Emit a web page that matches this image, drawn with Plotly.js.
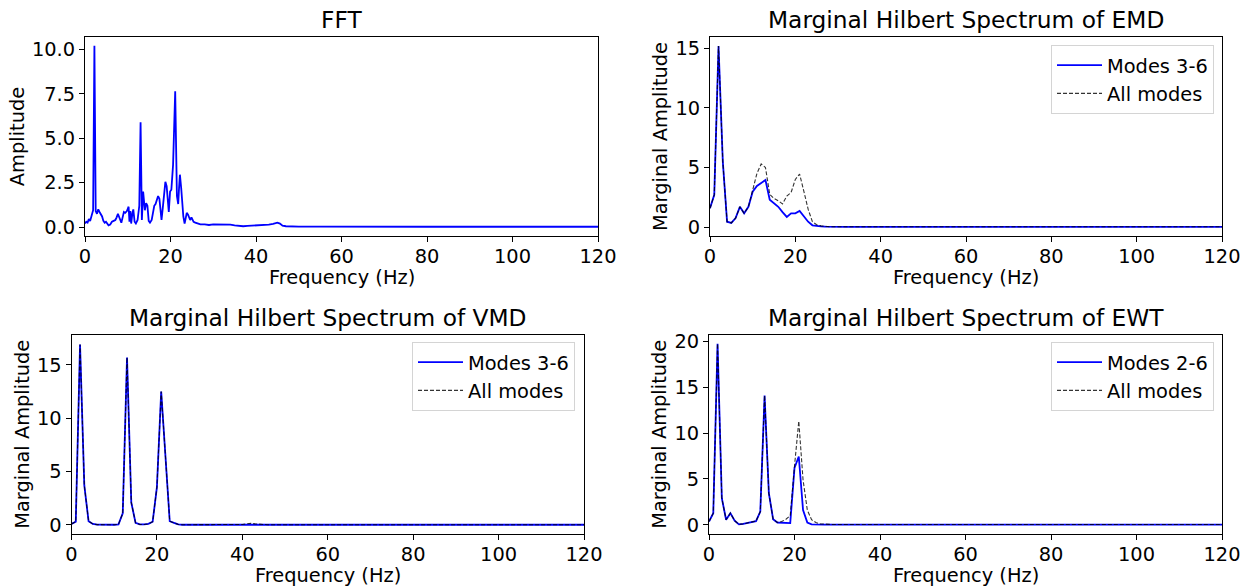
<!DOCTYPE html>
<html>
<head>
<meta charset="utf-8">
<script src="https://cdn.plot.ly/plotly-3.0.1.min.js"></script>
<style>
  html, body { margin: 0; padding: 0; background: #fff; }
  #chart { width: 1253px; height: 586px; }
</style>
</head>
<body>
<div id="chart"></div>
<script>
// ---------------- FFT ----------------
const fftFreq = [0, 0.3, 0.6, 0.9, 1.2, 1.5, 1.9, 2.2, 2.5, 2.8, 3.1, 3.4, 3.7, 4.0, 4.3, 4.6, 4.9, 5.2, 5.5,
  5.9, 6.3, 6.7, 7.1, 7.4, 7.7, 8.1, 8.5, 8.8, 9.1, 9.4, 9.8, 10.2, 10.4, 10.6, 10.8, 11.1, 11.3, 11.6, 11.9,
  12.3, 12.7, 13.0, 13.3, 13.6, 14.0, 14.3, 14.6, 14.9, 15.2, 15.6, 15.9, 16.2, 16.5, 16.8, 17.1, 17.4, 17.7,
  17.9, 18.2, 18.5, 18.8, 19.1, 19.4, 19.6, 19.9, 20.2, 20.6, 21.1, 21.5, 21.8, 22.0, 22.2, 22.5, 22.8, 23.0,
  23.3, 23.6, 23.8, 24.1, 24.4, 24.6, 24.9, 25.2, 25.4, 25.8, 26.3, 27, 28, 29, 30, 31, 32, 33, 34, 35, 36, 37,
  38, 39, 40, 41, 42, 43, 44, 45, 45.6, 46.2, 47, 48, 50, 55, 60, 70, 80, 90, 100, 110, 120];
const fftAmp = [0.2, 0.3, 0.25, 0.45, 0.35, 0.6, 0.95, 10.2, 0.9, 0.75, 1.0, 0.85, 0.7, 0.6, 0.35, 0.25, 0.3, 0.2, 0.1,
  0.15, 0.3, 0.35, 0.4, 0.55, 0.75, 0.5, 0.25, 0.55, 0.85, 0.8, 0.9, 1.15, 0.3, 0.9, 0.2, 0.8, 1.0, 0.3, 0.2,
  0.4, 1.2, 5.9, 0.4, 2.0, 0.95, 1.35, 1.2, 0.35, 0.25, 0.4, 0.9, 1.2, 1.3, 1.5, 1.75, 1.6, 1.0,
  0.4, 1.1, 1.8, 2.55, 2.3, 1.2, 0.85, 2.0, 2.1, 3.5, 7.65, 1.75, 1.3, 2.2, 2.95, 2.2, 1.2, 0.6,
  0.2, 0.5, 0.8, 0.7, 0.55, 0.4, 0.55, 0.4, 0.3, 0.25, 0.2, 0.15, 0.15, 0.12, 0.15, 0.15, 0.13, 0.12, 0.14, 0.1, 0.06, 0.05,
  0.07, 0.08, 0.09, 0.1, 0.12, 0.14, 0.18, 0.25, 0.2, 0.08, 0.05, 0.04, 0.03, 0.03, 0.02, 0.02, 0.02, 0.02, 0.02, 0.02, 0.02];

// ---------------- Hilbert spectra (common frequency grid) ----------------
const hhtFreq = [0, 1, 2, 3, 4, 5, 6, 7, 8, 9, 10, 11, 12, 13, 14, 15, 16, 17, 18, 19, 20, 21, 22, 23, 24, 25, 26, 27, 28, 29, 30,
  32, 35, 38, 40, 41, 42, 43, 44, 46, 50, 60, 70, 80, 90, 100, 110, 120];

const emdModes = [1.57, 2.7, 15.2, 5.5, 0.45, 0.35, 0.75, 1.7, 1.15, 1.7, 2.97, 3.45, 3.7, 3.95, 2.3, 2.0, 1.7, 1.25, 0.85, 1.15, 1.15, 1.35, 0.9, 0.45, 0.15, 0.08, 0.05, 0.03, 0.02, 0.02, 0.02,
  0.02, 0.02, 0.02, 0.02, 0.02, 0.02, 0.02, 0.02, 0.02, 0.02, 0.02, 0.02, 0.02, 0.02, 0.02, 0.02, 0.02];
const emdAll = [1.57, 2.7, 15.2, 5.5, 0.45, 0.35, 0.75, 1.7, 1.15, 1.7, 3.1, 4.5, 5.3, 5.0, 2.75, 2.4, 2.2, 1.95, 2.6, 2.9, 4.0, 4.45, 3.0, 1.5, 0.45, 0.2, 0.1, 0.05, 0.03, 0.03, 0.03,
  0.03, 0.03, 0.03, 0.03, 0.03, 0.03, 0.03, 0.03, 0.03, 0.03, 0.03, 0.03, 0.03, 0.03, 0.03, 0.03, 0.03];

const vmdModes = [0.1, 0.3, 16.9, 3.7, 0.35, 0.1, 0.03, 0.02, 0.02, 0.02, 0.02, 0.05, 1.1, 15.7, 2.1, 0.2, 0.05, 0.05, 0.1, 0.3, 3.55, 12.5, 6.0, 0.35, 0.2, 0.05, 0.02, 0.02, 0.02, 0.02, 0.02,
  0.02, 0.02, 0.02, 0.02, 0.02, 0.02, 0.02, 0.02, 0.02, 0.02, 0.02, 0.02, 0.02, 0.02, 0.02, 0.02, 0.02];
const vmdAll = [0.1, 0.3, 16.9, 3.7, 0.35, 0.1, 0.03, 0.02, 0.02, 0.02, 0.02, 0.05, 1.1, 15.7, 2.1, 0.2, 0.05, 0.05, 0.1, 0.3, 3.55, 12.5, 6.0, 0.35, 0.2, 0.05, 0.02, 0.02, 0.02, 0.02, 0.02,
  0.02, 0.02, 0.02, 0.05, 0.1, 0.15, 0.1, 0.05, 0.02, 0.02, 0.02, 0.02, 0.02, 0.02, 0.02, 0.02, 0.02];

const ewtModes = [0.36, 1.27, 19.75, 2.9, 0.55, 1.27, 0.45, 0.05, 0.1, 0.2, 0.3, 0.4, 1.45, 14.1, 3.45, 0.6, 0.25, 0.2, 0.15, 0.18, 6.2, 7.45, 1.6, 0.25, 0.05, 0.02, 0.02, 0.02, 0.02, 0.02, 0.02,
  0.02, 0.02, 0.02, 0.02, 0.02, 0.02, 0.02, 0.02, 0.02, 0.02, 0.02, 0.02, 0.02, 0.02, 0.02, 0.02, 0.02];
const ewtAll = [0.36, 1.27, 19.75, 2.9, 0.55, 1.27, 0.45, 0.05, 0.1, 0.2, 0.3, 0.4, 1.45, 14.1, 3.45, 0.6, 0.25, 0.35, 0.6, 1.0, 6.4, 11.3, 4.9, 1.6, 0.55, 0.25, 0.1, 0.05, 0.03, 0.03, 0.03,
  0.03, 0.03, 0.03, 0.03, 0.03, 0.03, 0.03, 0.03, 0.03, 0.03, 0.03, 0.03, 0.03, 0.03, 0.03, 0.03, 0.03];

const panelTitles = ['FFT', 'Marginal Hilbert Spectrum of EMD', 'Marginal Hilbert Spectrum of VMD', 'Marginal Hilbert Spectrum of EWT'];
const xLabel = 'Frequency (Hz)';
const legendNames = { emd: ['Modes 3-6', 'All modes'], vmd: ['Modes 3-6', 'All modes'], ewt: ['Modes 2-6', 'All modes'] };

// ---------------- styling ----------------
const FONT = 'DejaVu Sans, sans-serif';
const TICK = 19.4, TITLE = 23.3;
const W = 1253, H = 586;
const blueLine = { color: '#0000ff', width: 1.8 };
const dashLine = { color: 'rgba(0,0,0,0.8)', width: 1.1, dash: '4px,2px' };

function px(x) { return x / W; }
function py(y) { return 1 - y / H; }

const traces = [
  { x: fftFreq, y: fftAmp, type: 'scatter', mode: 'lines', line: blueLine, showlegend: false, xaxis: 'x', yaxis: 'y' },
  { x: hhtFreq, y: emdModes, type: 'scatter', mode: 'lines', line: blueLine, name: legendNames.emd[0], xaxis: 'x2', yaxis: 'y2', legend: 'legend' },
  { x: hhtFreq, y: emdAll, type: 'scatter', mode: 'lines', line: dashLine, name: legendNames.emd[1], xaxis: 'x2', yaxis: 'y2', legend: 'legend' },
  { x: hhtFreq, y: vmdModes, type: 'scatter', mode: 'lines', line: blueLine, name: legendNames.vmd[0], xaxis: 'x3', yaxis: 'y3', legend: 'legend2' },
  { x: hhtFreq, y: vmdAll, type: 'scatter', mode: 'lines', line: dashLine, name: legendNames.vmd[1], xaxis: 'x3', yaxis: 'y3', legend: 'legend2' },
  { x: hhtFreq, y: ewtModes, type: 'scatter', mode: 'lines', line: blueLine, name: legendNames.ewt[0], xaxis: 'x4', yaxis: 'y4', legend: 'legend3' },
  { x: hhtFreq, y: ewtAll, type: 'scatter', mode: 'lines', line: dashLine, name: legendNames.ewt[1], xaxis: 'x4', yaxis: 'y4', legend: 'legend3' }
];

function axisBase() {
  return {
    showline: true, mirror: true, linecolor: '#000', linewidth: 1,
    ticks: 'outside', ticklen: 5, tickwidth: 1, tickcolor: '#000',
    showgrid: false, zeroline: false,
    tickfont: { family: FONT, size: TICK, color: '#000' },
    automargin: false
  };
}
function xAxis(domain, anchor) {
  return Object.assign(axisBase(), {
    domain: domain, anchor: anchor, range: [0, 120], tick0: 0, dtick: 20, ticklabelstandoff: -2
  });
}
function yAxis(domain, anchor, range, dtick, fmt, label) {
  return Object.assign(axisBase(), {
    domain: domain, anchor: anchor, range: range, tick0: 0, dtick: dtick, tickformat: fmt,
    title: { text: label, font: { family: FONT, size: TICK, color: '#000' }, standoff: 2 }
  });
}

const colL = [px(85), px(598)], colR = [px(710), px(1222)];
const colL2 = [px(71.5), px(584)], colR2 = [px(709), px(1222)];
const rowT = [py(236), py(37)], rowB = [py(533.5), py(335)];

function legendAt(xr, yt) {
  return {
    x: xr, xanchor: 'right', y: yt, yanchor: 'top', xref: 'paper', yref: 'paper',
    bgcolor: 'rgba(255,255,255,0.9)', bordercolor: '#d4d4d4', borderwidth: 1,
    font: { family: FONT, size: TICK, color: '#000' }, tracegroupgap: 0, itemwidth: 45
  };
}

const panels = [[colL, rowT, 277], [colR, rowT, 277], [colL2, rowB, 575], [colR2, rowB, 575]];
const annotations = [];
panels.forEach(([xd, yd, labelY], i) => {
  annotations.push({
    text: panelTitles[i], xref: 'paper', yref: 'paper', x: (xd[0] + xd[1]) / 2, y: yd[1],
    xanchor: 'center', yanchor: 'bottom', yshift: 2, showarrow: false,
    font: { family: FONT, size: TITLE, color: '#000' }
  });
  annotations.push({
    text: xLabel, xref: 'paper', yref: 'paper', x: (xd[0] + xd[1]) / 2, y: py(labelY),
    xanchor: 'center', yanchor: 'middle', showarrow: false,
    font: { family: FONT, size: TICK, color: '#000' }
  });
});

const layout = {
  width: W, height: H,
  margin: { l: 0, r: 0, t: 0, b: 0 },
  paper_bgcolor: '#fff', plot_bgcolor: '#fff',
  font: { family: FONT, size: TICK, color: '#000' },
  xaxis: xAxis(colL, 'y'),
  yaxis: yAxis(rowT, 'x', [-0.5, 10.7], 2.5, '.1f', 'Amplitude'),
  xaxis2: xAxis(colR, 'y2'),
  yaxis2: yAxis(rowT, 'x2', [-0.75, 15.95], 5, 'd', 'Marginal Amplitude'),
  xaxis3: xAxis(colL2, 'y3'),
  yaxis3: yAxis(rowB, 'x3', [-0.8, 17.8], 5, 'd', 'Marginal Amplitude'),
  xaxis4: xAxis(colR2, 'y4'),
  yaxis4: yAxis(rowB, 'x4', [-0.95, 20.7], 5, 'd', 'Marginal Amplitude'),
  legend: legendAt(px(1214), py(45)),
  legend2: legendAt(px(575), py(342)),
  legend3: legendAt(px(1214), py(342)),
  annotations: annotations
};

Plotly.newPlot('chart', traces, layout, { displayModeBar: false, staticPlot: true });
</script>
</body>
</html>
